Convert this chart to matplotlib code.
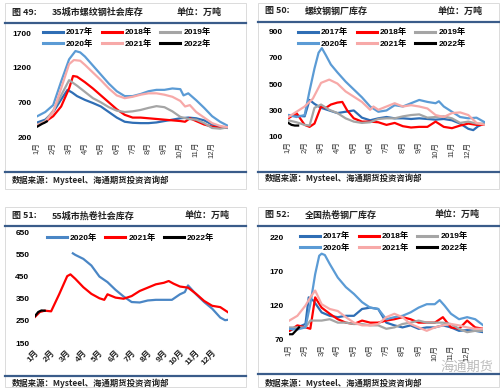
import numpy as np
import matplotlib
matplotlib.use('Agg')
import matplotlib.pyplot as plt
from matplotlib.patches import Rectangle

plt.rcParams['font.family'] = ['Liberation Sans', 'Noto Sans CJK SC']

W, H = 500, 388

month_labels = ['1月', '2月', '3月', '4月', '5月', '6月', '7月', '8月', '9月', '10月', '11月', '12月']

# 图49 35城市螺纹钢社会库存 (万吨), x = months since 1月
p1_2017_m = [0, 0.5, 1, 1.5, 1.9, 2.2, 2.5, 3, 3.5, 4, 4.5, 5, 5.5, 6, 6.5, 7, 7.5, 8, 8.5, 9, 9.5, 10, 10.5, 11, 11.5, 12]
p1_2017_v = [410, 450, 560, 740, 880, 840, 790, 735, 690, 640, 560, 480, 420, 405, 400, 400, 410, 430, 450, 470, 480, 470, 440, 380, 340, 330]
p1_2018_m = [0, 0.5, 1, 1.5, 2, 2.25, 2.5, 3, 3.5, 4, 4.5, 5, 5.5, 6, 6.5, 7, 7.5, 8, 8.5, 9, 9.3, 9.6, 10, 10.5, 11, 11.5, 12]
p1_2018_v = [370, 420, 500, 640, 900, 1080, 1070, 990, 900, 800, 700, 600, 520, 480, 480, 470, 460, 450, 440, 430, 420, 470, 430, 380, 350, 330, 345]
p1_2019_m = [0, 0.5, 1, 1.5, 2, 2.5, 3, 3.5, 4, 4.5, 5, 5.5, 6, 6.5, 7, 7.5, 8, 8.5, 9, 9.5, 10, 10.5, 11, 11.5, 12]
p1_2019_v = [380, 430, 580, 800, 1020, 940, 850, 760, 700, 630, 580, 560, 570, 590, 620, 645, 630, 570, 490, 460, 450, 400, 330, 320, 340]
p1_2020_m = [0, 0.5, 1, 1.5, 2, 2.4, 2.7, 3, 3.5, 4, 4.5, 5, 5.5, 6, 6.5, 7, 7.5, 8, 8.5, 9, 9.2, 9.5, 10, 10.5, 11, 11.5, 12]
p1_2020_v = [500, 560, 660, 1000, 1320, 1440, 1420, 1360, 1230, 1100, 970, 860, 790, 790, 820, 860, 880, 880, 900, 890, 800, 830, 730, 620, 500, 420, 360]
p1_2021_m = [0, 0.5, 1, 1.5, 2, 2.3, 2.7, 3, 3.5, 4, 4.5, 5, 5.5, 6, 6.5, 7, 7.5, 8, 8.5, 9, 9.3, 9.6, 10, 10.5, 11, 11.5, 12]
p1_2021_v = [370, 420, 560, 900, 1250, 1310, 1300, 1240, 1130, 1020, 900, 800, 760, 780, 810, 830, 830, 810, 780, 720, 640, 660, 560, 480, 400, 360, 340]
p1_2022_m = [0, 0.15, 0.3, 0.45, 0.6]
p1_2022_v = [350, 370, 390, 405, 425]

# 图50 螺纹钢钢厂库存
p2_2017_m = [0, 0.5, 1, 1.3, 1.6, 2, 2.5, 3, 3.5, 4, 4.5, 5, 5.5, 6, 6.5, 7, 7.5, 8, 8.5, 9, 9.5, 10, 10.5, 11, 11.3, 11.6, 12]
p2_2017_v = [265, 260, 255, 380, 350, 320, 300, 280, 290, 300, 245, 225, 240, 250, 240, 240, 235, 240, 235, 230, 235, 225, 200, 160, 150, 180, 200]
p2_2018_m = [0, 0.5, 1, 1.3, 1.6, 2, 2.3, 2.6, 3, 3.3, 3.6, 4, 4.5, 5, 5.5, 6, 6.5, 7, 7.5, 8, 8.5, 9, 9.5, 10, 10.5, 11, 11.5, 12]
p2_2018_v = [240, 280, 190, 175, 200, 330, 320, 345, 360, 365, 300, 240, 215, 215, 210, 190, 205, 180, 170, 175, 175, 215, 175, 165, 185, 200, 190, 190]
p2_2019_m = [0, 0.5, 1, 1.3, 1.6, 2, 2.5, 3, 3.5, 4, 4.5, 5, 5.5, 6, 6.5, 7, 7.5, 8, 8.5, 9, 9.5, 10, 10.5, 11, 11.5, 12]
p2_2019_v = [225, 210, 190, 185, 320, 345, 305, 280, 240, 215, 205, 210, 235, 240, 240, 255, 265, 270, 245, 250, 255, 240, 205, 215, 200, 200]
p2_2020_m = [0, 0.5, 1, 1.3, 1.6, 1.85, 2.05, 2.3, 2.6, 3, 3.5, 4, 4.5, 5, 5.5, 6, 6.5, 7, 7.5, 8, 8.5, 9, 9.2, 9.5, 10, 10.5, 11, 11.5, 12]
p2_2020_v = [265, 250, 265, 450, 620, 740, 775, 720, 650, 590, 520, 460, 400, 330, 290, 300, 340, 330, 355, 380, 365, 355, 370, 330, 290, 250, 240, 245, 210]
p2_2021_m = [0, 0.5, 1, 1.5, 2, 2.5, 3, 3.5, 4, 4.5, 5, 5.2, 5.5, 6, 6.5, 7, 7.5, 8, 8.5, 9, 9.5, 10, 10.5, 11, 11.5, 12]
p2_2021_v = [250, 290, 330, 390, 510, 535, 505, 445, 405, 365, 305, 330, 305, 330, 355, 330, 340, 330, 315, 265, 250, 280, 285, 265, 205, 190]
p2_2022_m = [0, 0.2, 0.4, 0.6]
p2_2022_v = [205, 190, 185, 185]

# 图51 55城市热卷社会库存
p3_2020_m = [2.35, 2.5, 3, 3.5, 4, 4.5, 5, 5.5, 6, 6.5, 7, 7.5, 8, 8.5, 9, 9.3, 9.5, 10, 10.5, 11, 11.5, 11.8, 12]
p3_2020_v = [555, 548, 530, 500, 450, 425, 390, 360, 335, 333, 342, 345, 345, 345, 370, 380, 410, 370, 335, 305, 265, 253, 255]
p3_2021_m = [0, 0.3, 0.6, 1, 1.5, 2, 2.2, 2.5, 3, 3.5, 4, 4.3, 4.5, 5, 5.5, 6, 6.5, 7, 7.5, 8, 8.3, 8.6, 9, 9.5, 10, 10.5, 11, 11.5, 12]
p3_2021_v = [268, 290, 296, 293, 370, 452, 460, 440, 402, 372, 352, 345, 370, 355, 350, 362, 385, 400, 415, 422, 430, 418, 405, 400, 372, 340, 318, 312, 288]
p3_2022_m = [0, 0.2, 0.4, 0.6]
p3_2022_v = [272, 290, 297, 296]

# 图52 全国热卷钢厂库存
p4_2017_m = [0, 0.5, 1, 1.2, 1.5, 2, 2.5, 3, 3.5, 4, 4.5, 5, 5.5, 6, 6.5, 7, 7.5, 8, 8.5, 9, 9.5, 10, 10.5, 11, 11.5, 12]
p4_2017_v = [83, 88, 93, 132, 127, 110, 105, 103, 105, 105, 115, 117, 115, 95, 91, 88, 91, 86, 88, 88, 91, 88, 83, 84, 83, 81]
p4_2018_m = [0, 0.5, 1, 1.3, 1.6, 2, 2.5, 3, 3.5, 4, 4.5, 5, 5.5, 6, 6.5, 7, 7.5, 8, 8.5, 9, 9.5, 10, 10.5, 11, 11.5, 12]
p4_2018_v = [83, 91, 88, 86, 132, 117, 108, 100, 95, 93, 98, 95, 95, 98, 100, 103, 100, 95, 95, 95, 103, 88, 86, 98, 88, 86]
p4_2019_m = [0, 1, 1.3, 2, 2.5, 3, 3.5, 4, 4.5, 5, 5.5, 6, 6.5, 7, 7.5, 8, 8.5, 9, 9.5, 10, 10.5, 11, 11.5, 12]
p4_2019_v = [88, 88, 98, 98, 100, 95, 95, 93, 93, 91, 91, 86, 88, 93, 95, 98, 95, 95, 95, 93, 86, 81, 83, 83]
p4_2020_m = [0, 0.5, 1, 1.3, 1.6, 1.85, 2, 2.2, 2.5, 3, 3.5, 4, 4.5, 5, 5.5, 6, 6.5, 7, 7.5, 8, 8.5, 9, 9.3, 9.6, 10, 10.5, 11, 11.5, 12]
p4_2020_v = [86, 85, 88, 122, 166, 193, 196, 194, 181, 161, 147, 137, 125, 117, 115, 100, 103, 105, 110, 117, 122, 122, 128, 120, 108, 100, 103, 100, 91]
p4_2021_m = [0, 0.5, 1, 1.3, 1.6, 2, 2.5, 3, 3.5, 4, 4.5, 5, 5.5, 6, 6.5, 7, 7.5, 8, 8.5, 9, 9.5, 10, 10.5, 11, 11.5, 12]
p4_2021_v = [98, 105, 120, 132, 142, 122, 115, 112, 103, 95, 91, 91, 93, 103, 108, 103, 93, 88, 83, 88, 91, 93, 91, 88, 86, 86]
p4_2022_m = [0, 0.2, 0.4, 0.6]
p4_2022_v = [78, 78, 83, 88]

colors = {'2017年': '#2F6EB5', '2018年': '#FF0000', '2019年': '#A5A5A5',
          '2020年': '#5B9BD5', '2021年': '#F7A9A8', '2022年': '#000000'}
# the hot-coil social stock chart uses its own palette
colors3 = {'2020年': '#4A86C5', '2021年': '#FF0000', '2022年': '#000000'}
navy = '#3A5C8A'
bold_font = {'family': ['Liberation Sans', 'Noto Sans CJK SC'], 'weight': 'bold', 'size': 6}

fig = plt.figure(figsize=(W / 100, H / 100), dpi=100)

# decoration layer in pixel coordinates
deco = fig.add_axes([0, 0, 1, 1])
deco.set_xlim(0, W)
deco.set_ylim(H, 0)
deco.axis('off')


def px_axes(x0, y0, x1, y1):
    return fig.add_axes([x0 / W, 1 - y1 / H, (x1 - x0) / W, (y1 - y0) / H], facecolor='none')


def frame(x0, y0, x1, y1, top_line, bottom_line, title_no, title, unit_x, src_y, title_y):
    deco.add_patch(Rectangle((x0, y0), x1 - x0, y1 - y0, fill=False, ec='#D6D6D6', lw=0.6))
    deco.plot([x0, x1], [top_line, top_line], color=navy, lw=1.6)
    deco.plot([x0, x1], [bottom_line, bottom_line], color=navy, lw=1.6)
    kw = dict(fontsize=6.5, fontweight='bold', va='center', color='#222222', family=['Noto Sans CJK SC'])
    deco.text(x0 + 7, title_y, title_no, **kw)
    deco.text(x0 + 47, title_y, title, **kw)
    deco.text(unit_x, title_y, '单位：万吨', **kw)
    deco.text(x0 + 7, src_y, '数据来源：Mysteel、海通期货投资咨询部', fontsize=6, fontweight='bold',
              va='center', color='#222222', family=['Noto Sans CJK SC'])


def panel(box, series, ylim, yticks, rot, leg_xy, leg_order, palette):
    ax = px_axes(*box)
    for lab, m, v in series:
        ax.plot(m, v, color=palette[lab], lw=1.6, label=lab, solid_joinstyle='round')
    ax.set_xlim(0, 12)
    ax.set_ylim(*ylim)
    ax.set_yticks(yticks)
    ax.set_xticks(range(12))
    for s in ax.spines.values():
        s.set_visible(False)
    ax.tick_params(axis='y', length=0, pad=4, labelsize=6)
    for t in ax.get_yticklabels():
        t.set_fontweight('bold')
    if rot == 90:
        ax.set_xticklabels(month_labels, rotation=90, fontsize=5.5, color='#333333')
        ax.tick_params(axis='x', length=0, pad=3.5)
    else:
        ax.set_xticklabels(month_labels, rotation=45, ha='right', rotation_mode='anchor',
                           fontsize=6, fontweight='bold', color='#222222')
        ax.tick_params(axis='x', length=0, pad=4)
    h, l = ax.get_legend_handles_labels()
    h = [h[i] for i in leg_order]
    l = [l[i] for i in leg_order]
    ax.legend(h, l, ncol=3, loc='upper left', bbox_to_anchor=(leg_xy[0] / W, 1 - leg_xy[1] / H),
              bbox_transform=fig.transFigure, frameon=False, prop=bold_font,
              handlelength=2.4, handletextpad=0.35, columnspacing=1.0, labelspacing=0.4,
              borderpad=0, borderaxespad=0)
    for line in ax.get_legend().get_lines():
        line.set_linewidth(2.2)
    return ax


frame(5, 3, 246, 189, 22.7, 171.7, '图 49:', '35城市螺纹钢社会库存', 176.7, 180, 12.7)
frame(258, 3, 499, 189, 21.7, 171.7, '图 50:', '螺纹钢钢厂库存', 438, 178, 11)
frame(5, 207, 246, 387, 225.7, 375.7, '图 51:', '55城市热卷社会库存', 185, 383, 215.7)
frame(258, 207, 499, 387, 225.7, 374, '图 52:', '全国热卷钢厂库存', 435, 383, 214.7)

six = [0, 3, 1, 4, 2, 5]

panel((37.3, 33, 228, 137),
      [('2017年', p1_2017_m, p1_2017_v), ('2018年', p1_2018_m, p1_2018_v), ('2019年', p1_2019_m, p1_2019_v),
       ('2020年', p1_2020_m, p1_2020_v), ('2021年', p1_2021_m, p1_2021_v), ('2022年', p1_2022_m, p1_2022_v)],
      (200, 1700), [200, 700, 1200, 1700], 90, (43, 28.5), six, colors)

panel((288.3, 31.7, 484.7, 136.7),
      [('2017年', p2_2017_m, p2_2017_v), ('2018年', p2_2018_m, p2_2018_v), ('2019年', p2_2019_m, p2_2019_v),
       ('2020年', p2_2020_m, p2_2020_v), ('2021年', p2_2021_m, p2_2021_v), ('2022年', p2_2022_m, p2_2022_v)],
      (100, 900), [100, 300, 500, 700, 900], 90, (298, 28.5), six, colors)

panel((35, 232.3, 228.3, 343),
      [('2020年', p3_2020_m, p3_2020_v), ('2021年', p3_2021_m, p3_2021_v), ('2022年', p3_2022_m, p3_2022_v)],
      (150, 650), [150, 250, 350, 450, 550, 650], 45, (46.7, 234), [0, 1, 2], colors3)

panel((289.3, 237.3, 483.3, 339.7),
      [('2017年', p4_2017_m, p4_2017_v), ('2018年', p4_2018_m, p4_2018_v), ('2019年', p4_2019_m, p4_2019_v),
       ('2020年', p4_2020_m, p4_2020_v), ('2021年', p4_2021_m, p4_2021_v), ('2022年', p4_2022_m, p4_2022_v)],
      (70, 220), [70, 120, 170, 220], 90, (300, 232.5), six, colors)

# watermark
deco.text(440, 367, '海通期货', fontsize=9.5, color='#BBBBBB', va='center', family=['Noto Sans CJK SC'])

fig.savefig('out.png', dpi=100)
